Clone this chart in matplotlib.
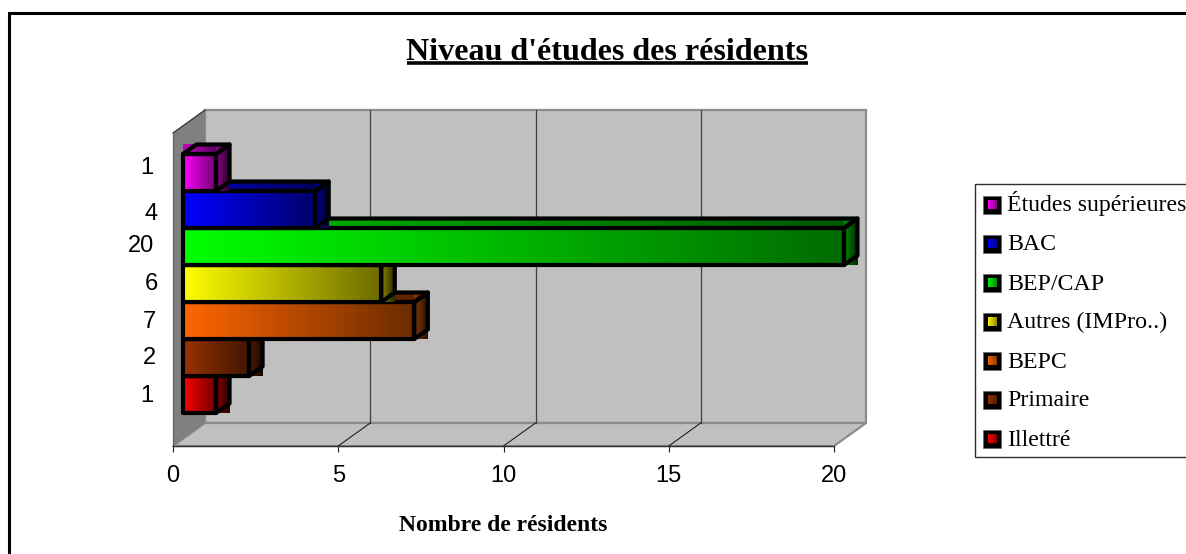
import numpy as np
import matplotlib
matplotlib.use("Agg")
import matplotlib.pyplot as plt
from matplotlib.patches import Polygon, Rectangle
from matplotlib.transforms import ScaledTranslation

title = "Niveau d'études des résidents"
xlabel = "Nombre de résidents"
categories = ["Illettré", "Primaire", "BEPC", "Autres (IMPro..)", "BEP/CAP", "BAC", "Études supérieures"]
values = [1, 2, 7, 6, 20, 4, 1]
colors = ["#FF0000", "#993300", "#FF6600", "#FFFF00", "#00FF00", "#0000FF", "#FF00FF"]
xticks = [0, 5, 10, 15, 20]

W, H = 1186, 554
fig = plt.figure(figsize=(W / 100, H / 100), dpi=100, facecolor="white")

# axes = front plane of the 3d box, 33 px per unit, one bar slot is 37 px
ax = fig.add_axes([173 / W, (H - 446) / H, 661 / W, (446 - 133) / H])
ax.patch.set_visible(False)
UX = 661 / 20
UY = 37.0
ymin, ymax = -51.5 / UY, 261.5 / UY
DX, DY = 32 / UX, 23 / UY        # depth of the box
BX = 10 / UX                     # bars start a bit inside
BDX, BDY = 13.5 / UX, 9.5 / UY   # depth of a bar


def grad(ax, c, f0, f1, x0, x1, y0, y1, z):
    rgb = np.array(matplotlib.colors.to_rgb(c))
    t = np.linspace(f0, f1, 128)[None, :, None]
    ax.imshow(t * rgb[None, None, :], extent=(x0, x1, y0, y1), aspect="auto",
              interpolation="bilinear", zorder=z, clip_on=False, vmin=0, vmax=1)


# walls
ax.add_patch(Polygon([(DX, ymin + DY), (20 + DX, ymin + DY), (20 + DX, ymax + DY), (DX, ymax + DY)],
                     fc="#C0C0C0", ec="#8C8C8C", lw=1.6, zorder=1, clip_on=False))
ax.add_patch(Polygon([(0, ymin), (20, ymin), (20 + DX, ymin + DY), (DX, ymin + DY)],
                     fc="#C0C0C0", ec="#8C8C8C", lw=1.6, zorder=1, clip_on=False))
ax.add_patch(Polygon([(0, ymin), (DX, ymin + DY), (DX, ymax + DY), (0, ymax)],
                     fc="#808080", ec="none", zorder=2, clip_on=False))
ax.plot([0, DX], [ymax, ymax + DY], color="#303030", lw=0.9, zorder=3, clip_on=False)
ax.plot([0, 0], [ymin, ymax], color="#606060", lw=0.9, zorder=3, clip_on=False)
for v in xticks[1:-1]:
    ax.plot([v + DX, v + DX], [ymin + DY, ymax + DY], color="#404040", lw=0.9, zorder=3, clip_on=False)
for v in xticks[1:-1]:
    ax.plot([v, v + DX], [ymin, ymin + DY], color="#202020", lw=0.8, zorder=3, clip_on=False)

# bars, bottom one first so that each bar sits on the one below
for i, (v, c) in enumerate(zip(values, colors)):
    z = 10 + i * 2
    x0, x1 = BX, BX + v
    y0, y1 = i - 0.5, i + 0.5
    grad(ax, c, 0.75, 0.35, x0, x1, y1, y1 + BDY, z)
    grad(ax, c, 0.55, 0.15, x1, x1 + BDX, y0, y1 + BDY, z)
    grad(ax, c, 1.0, 0.42, x0, x1, y0, y1, z)
    lines = dict(fc="none", ec="black", lw=3.0, joinstyle="round", zorder=z + 1, clip_on=False)
    ax.add_patch(Polygon([(x0, y0), (x1, y0), (x1, y1), (x0, y1)], **lines))
    ax.add_patch(Polygon([(x0, y1), (x0 + BDX, y1 + BDY), (x1 + BDX, y1 + BDY), (x1, y1)], **lines))
    ax.add_patch(Polygon([(x1, y0), (x1 + BDX, y0 + BDY), (x1 + BDX, y1 + BDY), (x1, y1)], **lines))

ax.set_xlim(0, 20)
ax.set_ylim(ymin, ymax)
for s in ["top", "left", "right"]:
    ax.spines[s].set_visible(False)
ax.spines["bottom"].set_color("#303030")
ax.spines["bottom"].set_linewidth(1.0)
ax.spines["bottom"].set_zorder(4)
ax.set_xticks(xticks)
ax.tick_params(axis="x", length=4.5, width=0.8, color="#202020", pad=9, labelsize=17)
ax.set_yticks(range(len(values)), [str(v) for v in values])
ax.tick_params(axis="y", length=0, pad=14.4, labelsize=17)
for lab in ax.get_xticklabels() + ax.get_yticklabels():
    lab.set_family("Liberation Sans")
# the value labels are not quite lined up in the original
shifts = [(0, 1.5), (3, 2.5), (3, 0.5), (5, 1.5), (1, 2.5), (5, -2.5), (0, 6.5)]
for lab, (sx, sy) in zip(ax.get_yticklabels(), shifts):
    lab.set_transform(lab.get_transform() + ScaledTranslation(sx / 100, sy / 100, fig.dpi_scale_trans))
ax.set_xlabel(xlabel, family="Liberation Serif", fontweight="bold", fontsize=17, labelpad=20)

# overlay in pixels for frame, title and legend
pg = fig.add_axes([0, 0, 1, 1], zorder=5)
pg.set_xlim(0, W)
pg.set_ylim(H, 0)
pg.axis("off")
pg.patch.set_visible(False)
pg.plot([8.5, 8.5, W], [H, 13, 13], color="black", lw=2.2, solid_joinstyle="miter")
pg.text(607.5, 60, title, family="Liberation Serif", fontweight="bold", fontsize=23.1,
        ha="center", va="baseline")
pg.plot([407, 808], [63, 63], color="black", lw=2.6, solid_capstyle="butt")

pg.add_patch(Rectangle((975, 184), 230, 273, fc="white", ec="#303030", lw=1.0, clip_on=True))
for i, (name, c) in enumerate(zip(categories[::-1], colors[::-1])):
    cy = 205 + i * 39
    pg.add_patch(Rectangle((983, cy - 9), 18, 18, fc="black", ec="#666666", lw=0.5))
    grad(pg, c, 0.95, 0.55, 987.5, 996.5, cy + 4.5, cy - 4.5, 6)
    pg.text(1007, cy + 6.5, name, family="Liberation Serif", fontsize=17.2, va="baseline", ha="left")
pg.set_xlim(0, W)
pg.set_ylim(H, 0)

fig.savefig("out.png", dpi=100)
